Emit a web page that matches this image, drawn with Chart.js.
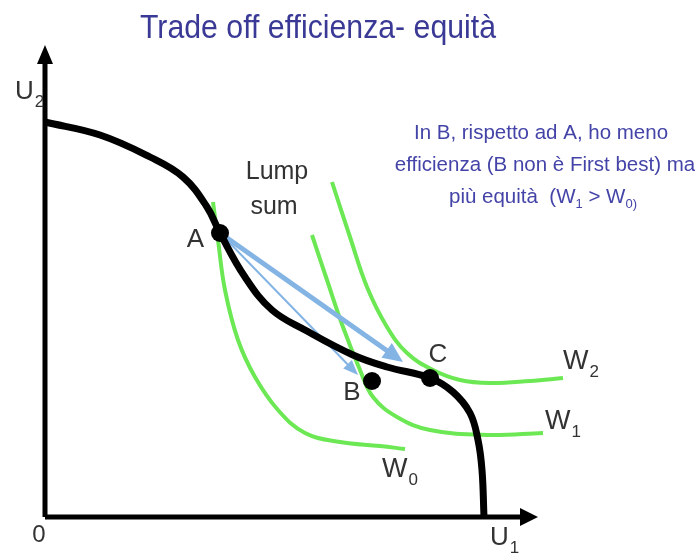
<!DOCTYPE html>
<html>
<head>
<meta charset="utf-8">
<script src="https://cdn.jsdelivr.net/npm/chart.js@4.4.1/dist/chart.umd.min.js"></script>
<style>
  html, body { margin: 0; padding: 0; background: #ffffff; }
  #wrap { width: 695px; height: 559px; }
</style>
</head>
<body>
<div id="wrap"><canvas id="c" width="695" height="559"></canvas></div>
<script>
// Utility possibility frontier (U1 on x, U2 on y)
const frontierU1 = [0, 11, 21, 27.6, 32.4, 35, 40, 45.4, 52, 61.6, 68.4, 77, 81.6, 85, 86.6, 87.4, 87.8];
const frontierU2 = [79, 76.4, 72, 68, 62, 56.8, 48, 41.4, 37.4, 32.4, 30, 27.8, 25, 20.8, 15.4, 9.4, 0];

// Social welfare curves W0 < W1 < W2
const w0U1 = [33.6, 34.6, 36, 38.6, 42, 46.6, 52, 59, 67, 72];
const w0U2 = [63, 55.4, 45.4, 35.4, 28, 21.4, 16.8, 15, 14.2, 13.6];
const w1U1 = [53.4, 56.4, 59.6, 63, 65.6, 70.4, 77, 88.4, 99.6];
const w1U2 = [56.4, 47.4, 38, 29.4, 24, 20, 17.4, 16.4, 16.8];
const w2U1 = [57.4, 61, 64.4, 68.4, 72.4, 77.6, 83, 89, 97, 103.6];
const w2U2 = [67, 56, 46, 38, 32.8, 29.4, 27.4, 26.8, 27.2, 27.8];

// Allocations A, B, C
const pointNames = ['A', 'B', 'C'];
const pointU1 = [35, 65.4, 77];
const pointU2 = [56.8, 27.2, 27.8];

// Lump-sum redistribution from A: towards C (thick) and towards B (thin)
const arrowFrom = ['A', 'A'];
const arrowTipU1 = [71.6, 62.6];
const arrowTipU2 = [31, 28.4];

// Axis extents (end of the shaft, arrowhead goes beyond)
const axisU1End = 95.2;
const axisU2End = 90.8;

const zip = (xs, ys) => xs.map((x, i) => ({ x: x, y: ys[i] }));

const GREEN = 'rgb(108,232,84)';
const BLUE = 'rgb(132,180,228)';
const INK = '#000000';
const LABEL = '#333333';
const FONT = '"Liberation Sans", Arial, Helvetica, sans-serif';

function curve(id, xs, ys, color, width, order) {
  return {
    id: id,
    data: zip(xs, ys),
    showLine: true,
    borderColor: color,
    borderWidth: width,
    pointRadius: 0,
    pointHoverRadius: 0,
    tension: 0.4,
    fill: false,
    clip: false,
    order: order,
    borderCapStyle: 'butt',
    borderJoinStyle: 'round'
  };
}

const datasets = [
  {
    id: 'points',
    data: zip(pointU1, pointU2),
    showLine: false,
    pointRadius: 9,
    pointHoverRadius: 9,
    pointBackgroundColor: INK,
    pointBorderColor: INK,
    pointBorderWidth: 0,
    clip: false,
    order: 0
  },
  curve('frontier', frontierU1, frontierU2, INK, 7, 1),
  Object.assign(curve('axisU1', [0, axisU1End], [0, 0], INK, 5, 2), { tension: 0 }),
  Object.assign(curve('axisU2', [0, 0], [0, axisU2End], INK, 5, 2), { tension: 0 }),
  curve('W0', w0U1, w0U2, GREEN, 4, 3),
  curve('W1', w1U1, w1U2, GREEN, 4, 3),
  curve('W2', w2U1, w2U2, GREEN, 4, 3)
];

function arrow(ctx, x0, y0, x1, y1, width, headLen, headHalf, color) {
  const dx = x1 - x0, dy = y1 - y0;
  const len = Math.hypot(dx, dy);
  const ux = dx / len, uy = dy / len;
  const bx = x1 - ux * headLen, by = y1 - uy * headLen;
  ctx.save();
  ctx.strokeStyle = color;
  ctx.fillStyle = color;
  ctx.lineWidth = width;
  ctx.lineCap = 'butt';
  ctx.beginPath();
  ctx.moveTo(x0, y0);
  ctx.lineTo(bx + ux * 1, by + uy * 1);
  ctx.stroke();
  ctx.beginPath();
  ctx.moveTo(x1, y1);
  ctx.lineTo(bx - uy * headHalf, by + ux * headHalf);
  ctx.lineTo(bx + uy * headHalf, by - ux * headHalf);
  ctx.closePath();
  ctx.fill();
  ctx.restore();
}

function textWithSub(ctx, x, y, main, sub, size, subSize, color) {
  ctx.save();
  ctx.fillStyle = color;
  ctx.textBaseline = 'middle';
  ctx.textAlign = 'left';
  ctx.font = size + 'px ' + FONT;
  const mw = ctx.measureText(main).width;
  ctx.fillText(main, x, y);
  ctx.font = subSize + 'px ' + FONT;
  ctx.fillText(sub, x + mw + 1, y + size * 0.38);
  ctx.restore();
}

const sketch = {
  id: 'sketch',
  beforeDatasetDraw(chart, args) {
    if (chart.data.datasets[args.index].id !== 'frontier') return;
    const xs = chart.scales.x, ys = chart.scales.y;
    const ctx = chart.ctx;
    const widths = [5, 2];
    const heads = [[20, 9], [15, 6]];
    for (let i = 0; i < arrowTipU1.length; i++) {
      const k = pointNames.indexOf(arrowFrom[i]);
      arrow(ctx,
        xs.getPixelForValue(pointU1[k]), ys.getPixelForValue(pointU2[k]),
        xs.getPixelForValue(arrowTipU1[i]), ys.getPixelForValue(arrowTipU2[i]),
        widths[i], heads[i][0], heads[i][1], BLUE);
    }
  },
  afterDraw(chart) {
    const ctx = chart.ctx;
    const xs = chart.scales.x, ys = chart.scales.y;
    const px = v => xs.getPixelForValue(v);
    const py = v => ys.getPixelForValue(v);

    // axis arrowheads
    ctx.save();
    ctx.fillStyle = INK;
    const ox = px(0), oy = py(0);
    const xb = px(axisU1End), yb = py(axisU2End);
    ctx.beginPath();
    ctx.moveTo(xb - 1, oy - 9);
    ctx.lineTo(xb + 17, oy);
    ctx.lineTo(xb - 1, oy + 9);
    ctx.closePath();
    ctx.fill();
    ctx.beginPath();
    ctx.moveTo(ox - 8, yb + 1);
    ctx.lineTo(ox, yb - 18);
    ctx.lineTo(ox + 8, yb + 1);
    ctx.closePath();
    ctx.fill();
    ctx.restore();

    // title, in a narrow face
    ctx.save();
    ctx.fillStyle = 'rgb(58,58,150)';
    ctx.font = '34px ' + FONT;
    ctx.textAlign = 'center';
    ctx.textBaseline = 'alphabetic';
    ctx.translate(318, 38);
    ctx.scale(0.89, 1);
    ctx.fillText('Trade off efficienza- equità', 0, 0);
    ctx.restore();

    // comment on the right
    ctx.save();
    ctx.fillStyle = 'rgb(68,68,168)';
    ctx.font = '20.5px ' + FONT;
    ctx.textAlign = 'center';
    ctx.textBaseline = 'middle';
    ctx.fillText('In B, rispetto ad A, ho meno', 541, 133);
    ctx.fillText('efficienza (B non è First best) ma', 545, 165);
    ctx.restore();

    // third line with subscripts
    ctx.save();
    ctx.fillStyle = 'rgb(68,68,168)';
    ctx.textBaseline = 'middle';
    const parts = [['più equità  (W', 20.5, 0], ['1', 13, 7], [' > W', 20.5, 0], ['0)', 13, 7]];
    let total = 0;
    parts.forEach(p => { ctx.font = p[1] + 'px ' + FONT; total += ctx.measureText(p[0]).width; });
    let cx = 543 - total / 2;
    parts.forEach(p => {
      ctx.font = p[1] + 'px ' + FONT;
      ctx.fillText(p[0], cx, 197 + p[2]);
      cx += ctx.measureText(p[0]).width;
    });
    ctx.restore();

    // point labels
    ctx.save();
    ctx.fillStyle = LABEL;
    ctx.textAlign = 'center';
    ctx.textBaseline = 'middle';
    ctx.font = '26px ' + FONT;
    ctx.fillText('A', px(30.1), py(55.4));
    ctx.fillText('B', px(61.4), py(24.8));
    ctx.fillText('C', px(78.6), py(32.4));
    ctx.font = '25px ' + FONT;
    ctx.fillText('Lump', px(46.4), py(69));
    ctx.fillText('sum', px(45.8), py(62));
    ctx.font = '24px ' + FONT;
    ctx.fillText('0', px(-1.2), py(-3.6));
    ctx.restore();

    // curve and axis labels
    textWithSub(ctx, px(103.6), py(31), 'W', '2', 27, 17, LABEL);
    textWithSub(ctx, px(100), py(19), 'W', '1', 27, 17, LABEL);
    textWithSub(ctx, px(67.4), py(9.4), 'W', '0', 27, 17, LABEL);
    textWithSub(ctx, px(-6), py(85), 'U', '2', 26, 17, LABEL);
    textWithSub(ctx, px(89), py(-4.2), 'U', '1', 26, 17, LABEL);
  }
};

new Chart(document.getElementById('c'), {
  type: 'scatter',
  data: { datasets: datasets },
  options: {
    responsive: false,
    animation: false,
    devicePixelRatio: 1,
    layout: { autoPadding: false, padding: { left: 45, right: 0, top: 17, bottom: 42 } },
    scales: {
      x: { type: 'linear', min: 0, max: 130, display: false },
      y: { type: 'linear', min: 0, max: 100, display: false }
    },
    plugins: {
      legend: { display: false },
      tooltip: { enabled: false }
    },
    events: []
  },
  plugins: [sketch]
});
</script>
</body>
</html>
